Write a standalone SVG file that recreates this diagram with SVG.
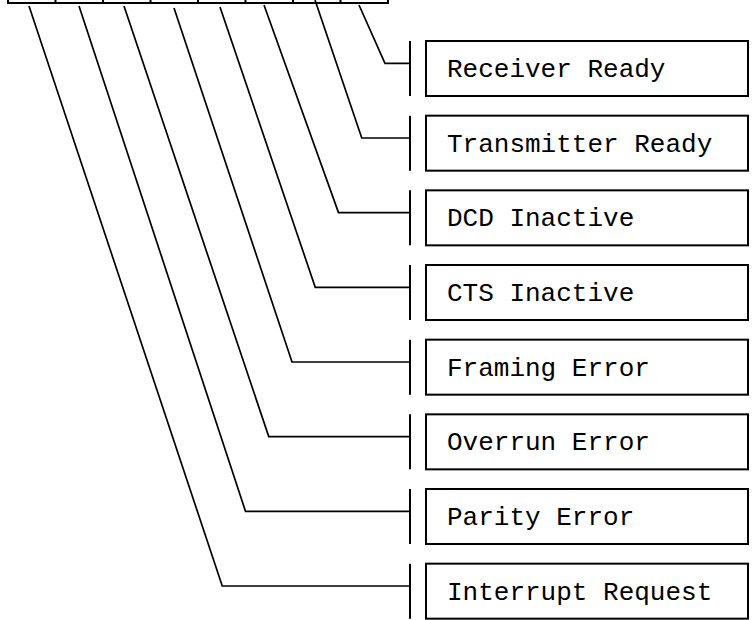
<svg xmlns="http://www.w3.org/2000/svg" width="752" height="620" viewBox="0 0 752 620">
<style>
.cell{fill:none;stroke:#000;stroke-width:2}
.box{fill:#fff;stroke:#000;stroke-width:2}
.bar{stroke:#000;stroke-width:2}
.lead{fill:none;stroke:#000;stroke-width:1.7;stroke-linejoin:miter}
.lbl{font-family:"Liberation Mono","Courier New",monospace;font-size:26px;fill:#000}
</style>
<rect width="752" height="620" fill="#fff"/>
<g id="register">
<rect class="cell" x="8" y="-20" width="380" height="23"/>
<path class="cell" d="M55.5 -20V3M103 -20V3M150.5 -20V3M198 -20V3M245.5 -20V3M293 -20V3M340.5 -20V3"/>
</g>
<g id="connectors">
<polyline class="lead" points="359,5 385,63.3 410,63.3"/>
<polyline class="lead" points="315,0 361.75,138 410,138"/>
<polyline class="lead" points="264,5 338.5,212.6 410,212.6"/>
<polyline class="lead" points="220,7 315.25,287.3 410,287.3"/>
<polyline class="lead" points="174,8 292,362 410,362"/>
<polyline class="lead" points="124,6 268.75,436.6 410,436.6"/>
<polyline class="lead" points="79,6 245.5,511.3 410,511.3"/>
<polyline class="lead" points="29,6 222.25,586 410,586"/>
</g>
<g id="n0"><line class="bar" x1="410" y1="41" x2="410" y2="96"/><rect class="box" x="426" y="41" width="322" height="55"/><text class="lbl" x="447" y="77">Receiver Ready</text></g>
<g id="n1" transform="translate(0,74.67)"><line class="bar" x1="410" y1="41" x2="410" y2="96"/><rect class="box" x="426" y="41" width="322" height="55"/><text class="lbl" x="447" y="77">Transmitter Ready</text></g>
<g id="n2" transform="translate(0,149.34)"><line class="bar" x1="410" y1="41" x2="410" y2="96"/><rect class="box" x="426" y="41" width="322" height="55"/><text class="lbl" x="447" y="77">DCD Inactive</text></g>
<g id="n3" transform="translate(0,224)"><line class="bar" x1="410" y1="41" x2="410" y2="96"/><rect class="box" x="426" y="41" width="322" height="55"/><text class="lbl" x="447" y="77">CTS Inactive</text></g>
<g id="n4" transform="translate(0,298.67)"><line class="bar" x1="410" y1="41" x2="410" y2="96"/><rect class="box" x="426" y="41" width="322" height="55"/><text class="lbl" x="447" y="77">Framing Error</text></g>
<g id="n5" transform="translate(0,373.34)"><line class="bar" x1="410" y1="41" x2="410" y2="96"/><rect class="box" x="426" y="41" width="322" height="55"/><text class="lbl" x="447" y="77">Overrun Error</text></g>
<g id="n6" transform="translate(0,448)"><line class="bar" x1="410" y1="41" x2="410" y2="96"/><rect class="box" x="426" y="41" width="322" height="55"/><text class="lbl" x="447" y="77">Parity Error</text></g>
<g id="n7" transform="translate(0,522.67)"><line class="bar" x1="410" y1="41" x2="410" y2="96"/><rect class="box" x="426" y="41" width="322" height="55"/><text class="lbl" x="447" y="77">Interrupt Request</text></g>
</svg>
